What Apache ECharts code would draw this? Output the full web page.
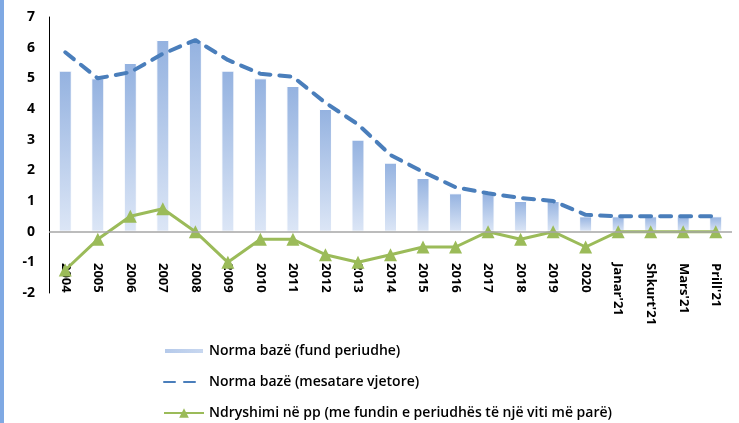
<!DOCTYPE html>
<html><head><meta charset="utf-8">
<script src="https://cdn.jsdelivr.net/npm/echarts@6/dist/echarts.min.js"></script>
<style>html,body{margin:0;padding:0;background:#fff}#c{width:739px;height:423px}</style>
</head><body><div id="c"></div>
<script>
const categories = ['2004','2005','2006','2007','2008','2009','2010','2011','2012','2013','2014','2015','2016','2017','2018','2019','2020',"Janar'21","Shkurt'21","Mars'21","Prill'21"];
const endPeriod = [5.25,5.0,5.5,6.25,6.25,5.25,5.0,4.75,4.0,3.0,2.25,1.75,1.25,1.25,1.0,1.0,0.5,0.5,0.5,0.5,0.5];
const annualAvg = [5.85,5.0,5.2,5.8,6.25,5.6,5.15,5.05,4.2,3.5,2.5,1.95,1.45,1.25,1.1,1.0,0.55,0.5,0.5,0.5,0.5];
const changePp = [-1.25,-0.25,0.5,0.75,0,-1.0,-0.25,-0.25,-0.75,-1.0,-0.75,-0.5,-0.5,0,-0.25,0,-0.5,0,0,0,0];
const names = ['Norma bazë (fund periudhe)','Norma bazë (mesatare vjetore)','Ndryshimi në pp (me fundin e periudhës të një viti më parë)'];

const chart = echarts.init(document.getElementById('c'), null, {renderer:'canvas'});
const font = 'Open Sans, Liberation Sans, sans-serif';
const barGrad = new echarts.graphic.LinearGradient(0,0,0,1,[{offset:0,color:'#94b2e0'},{offset:1,color:'#dce6f6'}]);
chart.setOption({
  animation:false,
  graphic:[{type:'rect',shape:{x:0,y:0,width:4,height:423},style:{fill:'#7fa9e3'}}],
  grid:{left:49,right:7,top:17,bottom:130,containLabel:false},
  legend:{
    orient:'vertical',left:163,top:344,itemGap:17,itemWidth:40,itemHeight:12,padding:0,
    textStyle:{fontFamily:font,fontSize:14,fontWeight:600,color:'#000'},
    data:[
      {name:names[0],icon:'path://M0,3H40V9H0Z',itemStyle:{color:new echarts.graphic.LinearGradient(0,0,1,0,[{offset:0,color:'#b4c9ea'},{offset:1,color:'#c9d8f0'}])}},
      {name:names[1],itemStyle:{opacity:0}},
      {name:names[2]}
    ]
  },
  xAxis:{type:'category',data:categories,boundaryGap:true,
    axisLine:{show:false,onZero:false},
    axisTick:{show:false},
    axisLabel:{rotate:-90,margin:-30,interval:0,fontFamily:font,fontSize:13,fontWeight:'bold',color:'#000'}
  },
  yAxis:{type:'value',min:-2,max:7,interval:1,
    axisLine:{show:true,lineStyle:{color:'#000',width:1}},
    axisTick:{show:false},splitLine:{show:false},
    axisLabel:{margin:14,fontFamily:font,fontSize:14,fontWeight:'bold',color:'#000'}
  },
  series:[
    {name:names[0],type:'bar',data:endPeriod,barWidth:13,
      itemStyle:{borderColor:'#fff',borderWidth:1,color:barGrad},
      markLine:{silent:true,symbol:'none',label:{show:false},
        lineStyle:{color:'#a6a6a6',width:1.5,type:'solid'},data:[{yAxis:0}]}},
    {name:names[1],type:'line',data:annualAvg,symbol:'none',z:3,
      lineStyle:{color:'#4a7ebb',width:4,type:[11,9],cap:'round'},itemStyle:{color:'#4a7ebb'}},
    {name:names[2],type:'line',data:changePp,symbol:'triangle',symbolSize:13,z:4,
      lineStyle:{color:'#9bbb59',width:3},itemStyle:{color:'#9bbb59'}}
  ]
});
</script></body></html>
